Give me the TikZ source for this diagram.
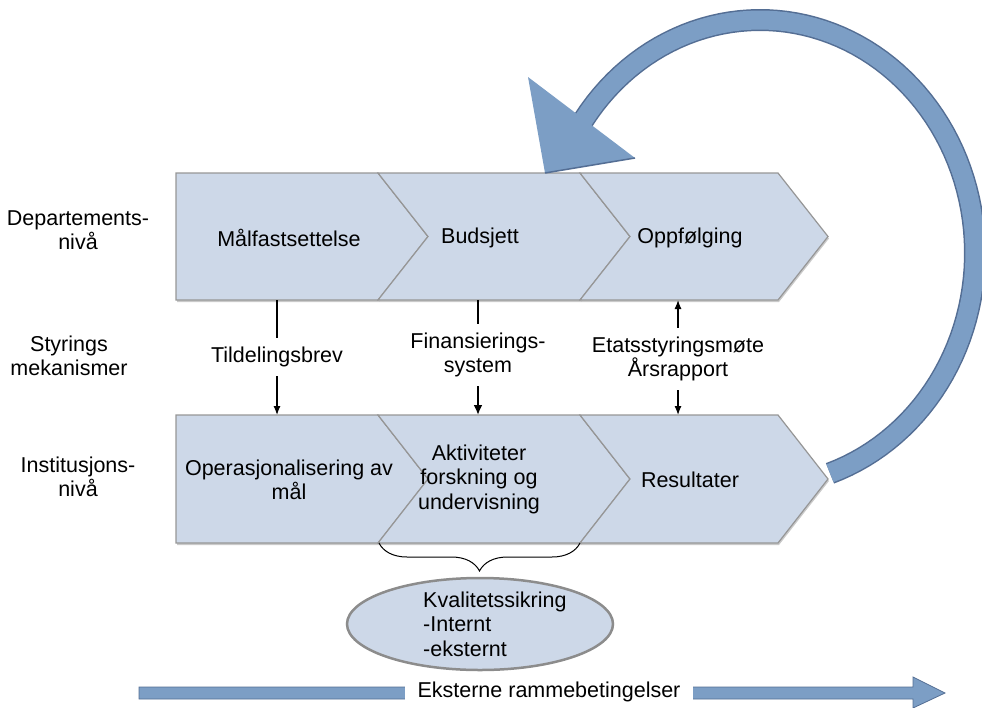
\documentclass[tikz,border=0pt]{standalone}
\usepackage{fontspec}
\setmainfont{Liberation Sans}
\usetikzlibrary{arrows.meta}
\usetikzlibrary{decorations.pathreplacing}
\usetikzlibrary{positioning}
\usetikzlibrary{shapes.geometric}
\usetikzlibrary{shadows}
\definecolor{chevfill}{RGB}{205,216,232}
\definecolor{chevline}{RGB}{150,150,150}
\definecolor{mblue}{RGB}{124,158,197}
\definecolor{mbluedark}{RGB}{84,110,148}
\tikzset{chev/.style = {fill=chevfill, draw=chevline, line width=1.2pt,
                        drop shadow={shadow xshift=1pt, shadow yshift=-2pt, opacity=0.35, fill=black!60}}}
\tikzset{txt/.style = {align=center, font=\fontsize{21.5}{24.5}\selectfont, inner sep=0pt}}
\tikzset{mech/.style = {txt, inner xsep=2pt, inner ysep=9pt}}
\tikzset{pil/.style = {-{Latex[length=9pt, width=7pt]}, line width=1.2pt}}
\tikzset{fatpil/.style = {-{Latex[length=10pt, width=9pt]}, line width=2.2pt}}
\tikzset{kval/.style = {ellipse, fill=chevfill, draw=black!45, line width=2.5pt,
                        minimum width=266pt, minimum height=92pt}}
\tikzset{band/.style = {fill=mblue, draw=mbluedark, line width=0.8pt}}

\begin{document}
\begin{tikzpicture}[x=1pt, y=-1pt]
    \useasboundingbox (0,0) rectangle (982,707);

    \foreach \t/\m/\b in {173/236.5/300, 415/479/543} {
      \draw[chev] (176,\t) -- (378,\t) -- (428,\m) -- (378,\b) -- (176,\b) -- cycle;
      \draw[chev] (378,\t) -- (580,\t) -- (630,\m) -- (580,\b) -- (378,\b) -- (428,\m) -- cycle;
      \draw[chev] (580,\t) -- (778,\t) -- (828,\m) -- (778,\b) -- (580,\b) -- (630,\m) -- cycle;
    }

    \node[txt] (malfast) at (289,238) {Målfastsettelse};
    \node[txt] (budsjett) at (480,238) {Budsjett};
    \node[txt] (oppfolg) at (690,238) {Oppfølging};
    \node[txt] (operasj) at (289,480) {Operasjonalisering av\\mål};
    \node[txt] (aktiv) at (479,479) {Aktiviteter\\forskning og\\undervisning};
    \node[txt] (result) at (690,480) {Resultater};

    \node[txt] (dep) at (78,230) {Departements-\\nivå};
    \node[txt] (styr) at (69,356) {Styrings\\mekanismer};
    \node[txt] (inst) at (78,477) {Institusjons-\\nivå};

    \node[mech] (tildel) at (277,357) {Tildelingsbrev};
    \node[mech] (finans) at (478,355) {Finansierings-\\system};
    \node[mech] (etats) at (678,359) {Etatsstyringsmøte\\Årsrapport};

    \coordinate (d1) at (277,300);
    \coordinate (d2) at (478,300);
    \coordinate (d3) at (678,300);
    \coordinate (i1) at (277,415);
    \coordinate (i2) at (478,415);
    \coordinate (i3) at (678,415);

    \draw[line width=1.2pt] (d1) -- (tildel);
    \draw[pil] (tildel) -- (i1);
    \draw[line width=2.2pt] (d2) -- (finans);
    \draw[fatpil] (finans) -- (i2);
    \draw[pil] (etats) -- (d3);
    \draw[pil] (etats) -- (i3);

    \draw[mbluedark, line width=22pt] plot[domain=71:-150, samples=90] ({760+215*cos(\x)}, {253+233*sin(\x)});
    \draw[mblue, line width=19pt] plot[domain=71:-150, samples=90] ({760+215*cos(\x)}, {253+233*sin(\x)});
    \fill[mblue] (528,77) -- (635,158) -- (545,173) -- cycle;
    \draw[mbluedark, line width=1.5pt] (635,158) -- (545,173);

    \coordinate (br1) at (379,543);
    \coordinate (br2) at (580,543);
    \draw[line width=1pt, decorate, decoration={brace, mirror, amplitude=28pt}] (br1) -- (br2);

    \node[kval] (kval) at (480,624) {};
    \node[txt, align=left, anchor=west] (kvaltxt) at (423,624) {Kvalitetssikring\\-Internt\\-eksternt};

    \draw[band] (139,687) -- (913,687) -- (913,677) -- (945,693) -- (913,708) -- (913,699) -- (139,699) -- cycle;
    \node[txt, fill=white, inner xsep=13pt, inner ysep=2pt] (ramme) at (549,692) {Eksterne rammebetingelser};
\end{tikzpicture}
\end{document}
